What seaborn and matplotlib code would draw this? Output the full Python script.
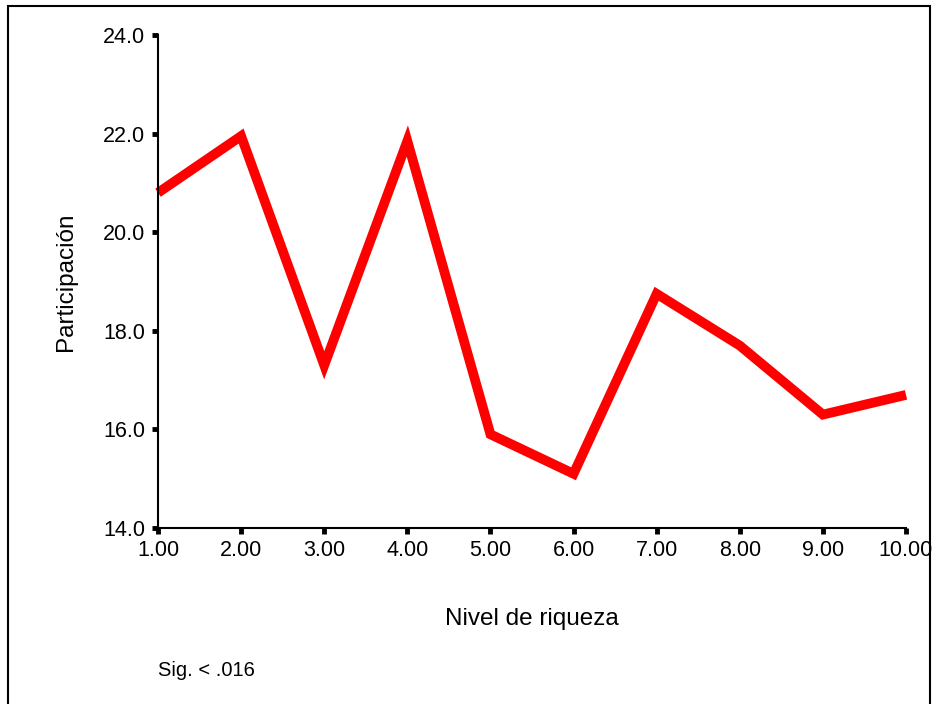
import pandas as pd
import seaborn as sns
import matplotlib.pyplot as plt
from matplotlib.patches import Rectangle
from matplotlib.ticker import FormatStrFormatter

# values
nivel = [1, 2, 3, 4, 5, 6, 7, 8, 9, 10]
participacion = [20.8, 21.95, 17.3, 21.85, 15.9, 15.1, 18.75, 17.7, 16.3, 16.7]
y_ticks = [14, 16, 18, 20, 22, 24]

df = pd.DataFrame({"nivel": nivel, "participacion": participacion})

sns.set_style("white")
plt.rcParams['font.family'] = ['Liberation Sans', 'DejaVu Sans']

fig = plt.figure(figsize=(9.34, 7.04), dpi=100)
ax = fig.add_axes([158 / 934, 1 - 528 / 704, 748 / 934, 493 / 704])

sns.lineplot(data=df, x="nivel", y="participacion", ax=ax, color="#ff0000",
             linewidth=7.0, solid_joinstyle="miter", solid_capstyle="butt",
             clip_on=False)

ax.set_xlim(1, 10)
ax.set_ylim(14, 24)
ax.set_xticks(nivel)
ax.set_yticks(y_ticks)
ax.xaxis.set_major_formatter(FormatStrFormatter('%.2f'))
ax.yaxis.set_major_formatter(FormatStrFormatter('%.1f'))

for side in ['top', 'right']:
    ax.spines[side].set_visible(False)
for side in ['left', 'bottom']:
    ax.spines[side].set_color('black')
    ax.spines[side].set_linewidth(1.5)

ax.tick_params(axis='both', bottom=True, left=True, direction='out',
               length=4, width=3.5, color='black', labelsize=15.5,
               labelcolor='black', pad=5)

ax.set_xlabel("Nivel de riqueza", fontsize=17.5, color='black')
ax.set_ylabel("Participación", fontsize=17.5, color='black')
ax.xaxis.set_label_coords(0.5, -0.162)
ax.yaxis.set_label_coords(-0.108, 0.5)

fig.text(158 / 934, 1 - 671 / 704, "Sig. < .016", fontsize=14.5,
         ha='left', va='center', color='black')

# outer frame around the chart
fig.patches.append(Rectangle((8 / 934, -0.05), 922 / 934, 1.05 - 6 / 704,
                             transform=fig.transFigure, fill=False,
                             edgecolor='black', linewidth=1.5))

fig.savefig("out.png", dpi=100)
